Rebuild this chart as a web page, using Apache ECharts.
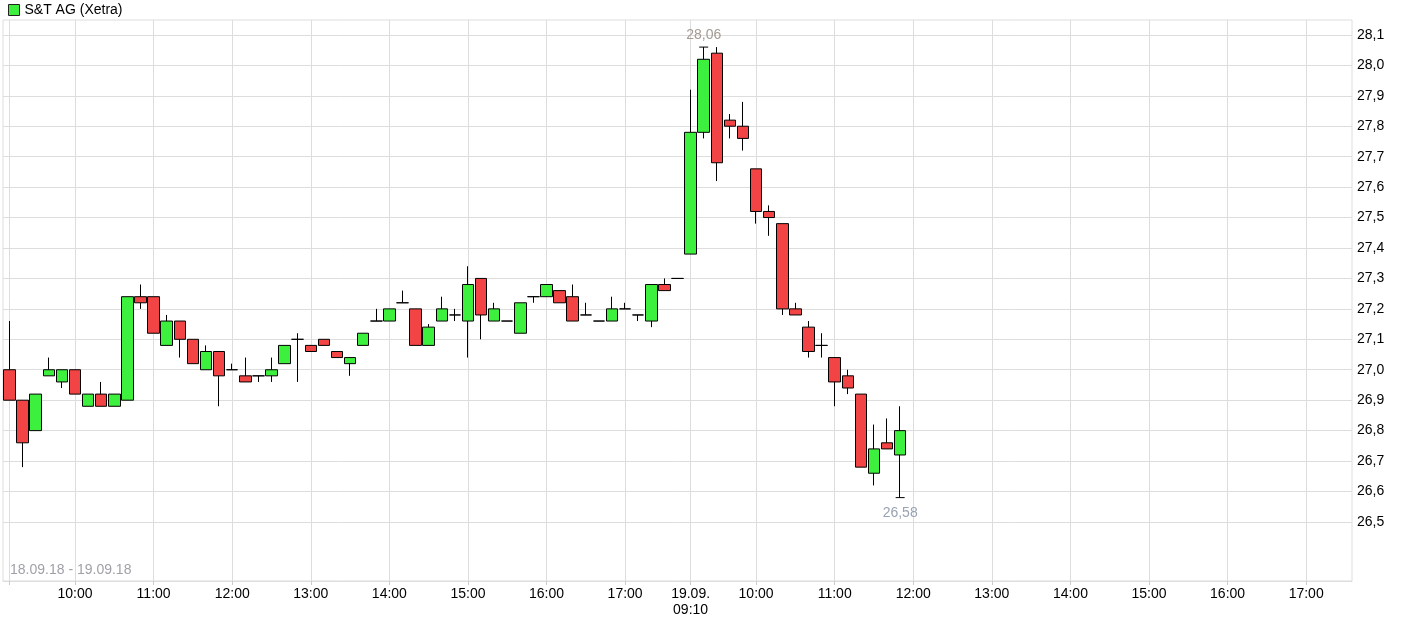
<!DOCTYPE html>
<html>
<head>
<meta charset="utf-8">
<script src="https://cdn.jsdelivr.net/npm/echarts@6/dist/echarts.min.js"></script>
<style>
html,body{margin:0;padding:0;background:#fff;}
#chart{width:1414px;height:626px;}
</style>
</head>
<body>
<div id="chart"></div>
<script>
// ---- DATA ----
const seriesName = 'S&T AG (Xetra)';
const dateRange = '18.09.18 - 19.09.18';
const day1Date = '18.09.';
const day2Date = '19.09.';
const day1Times = ['09:10','09:20','09:30','09:40','09:50','10:00','10:10','10:20','10:30','10:40','10:50','11:00',
  '11:10','11:20','11:30','11:40','11:50','12:00','12:10','12:20','12:30','12:40','12:50','13:00',
  '13:10','13:20','13:30','13:40','13:50','14:00','14:10','14:20','14:30','14:40','14:50','15:00',
  '15:10','15:20','15:30','15:40','15:50','16:00','16:10','16:20','16:30','16:40','16:50','17:00',
  '17:10','17:20','17:30','17:40'];
const day2Times = ['09:10','09:20','09:30','09:40','09:50','10:00','10:10','10:20','10:30','10:40','10:50','11:00',
  '11:10','11:20','11:30','11:40','11:50','12:00','12:10','12:20','12:30','12:40','12:50','13:00',
  '13:10','13:20','13:30','13:40','13:50','14:00','14:10','14:20','14:30','14:40','14:50','15:00',
  '15:10','15:20','15:30','15:40','15:50','16:00','16:10','16:20','16:30','16:40','16:50','17:00',
  '17:10','17:20','17:30'];
// [open, close, low, high]
const day1Candles = [
  [27.00,26.90,26.90,27.16],[26.90,26.76,26.68,26.90],[26.80,26.92,26.80,26.92],[26.98,27.00,26.98,27.04],
  [26.96,27.00,26.94,27.00],[27.00,26.92,26.92,27.00],[26.88,26.92,26.88,26.92],[26.92,26.88,26.88,26.96],
  [26.88,26.92,26.88,26.92],[26.90,27.24,26.90,27.24],[27.24,27.22,27.20,27.28],[27.24,27.12,27.12,27.24],
  [27.08,27.16,27.08,27.18],[27.16,27.10,27.04,27.16],[27.10,27.02,27.02,27.10],[27.00,27.06,27.00,27.08],
  [27.06,26.98,26.88,27.06],[27.00,27.00,27.00,27.02],[26.98,26.96,26.96,27.04],[26.98,26.98,26.96,26.98],
  [26.98,27.00,26.96,27.04],[27.02,27.08,27.02,27.08],[27.10,27.10,26.96,27.12],[27.08,27.06,27.06,27.08],
  [27.10,27.08,27.08,27.10],[27.06,27.04,27.04,27.06],[27.02,27.04,26.98,27.04],[27.08,27.12,27.08,27.12],
  [27.16,27.16,27.16,27.20],[27.16,27.20,27.16,27.20],[27.22,27.22,27.22,27.26],[27.20,27.08,27.08,27.20],
  [27.08,27.14,27.08,27.15],[27.16,27.20,27.16,27.24],[27.18,27.18,27.16,27.20],[27.16,27.28,27.04,27.34],
  [27.30,27.18,27.10,27.30],[27.16,27.20,27.16,27.22],[27.16,27.16,27.16,27.16],[27.12,27.22,27.12,27.22],
  [27.24,27.24,27.22,27.24],[27.24,27.28,27.24,27.28],[27.26,27.22,27.22,27.26],[27.24,27.16,27.16,27.28],
  [27.18,27.18,27.18,27.22],[27.16,27.16,27.16,27.16],[27.16,27.20,27.16,27.24],[27.20,27.20,27.20,27.22],
  [27.18,27.18,27.16,27.18],[27.16,27.28,27.14,27.28],[27.28,27.26,27.26,27.30],[27.30,27.30,27.30,27.30]
];
const day2Candles = [
  [27.38,27.78,27.38,27.92],[27.78,28.02,27.76,28.06],[28.04,27.68,27.62,28.06],[27.82,27.80,27.76,27.84],
  [27.80,27.76,27.72,27.88],[27.66,27.52,27.48,27.66],[27.52,27.50,27.44,27.54],[27.48,27.20,27.18,27.48],
  [27.20,27.18,27.18,27.22],[27.14,27.06,27.04,27.16],[27.08,27.08,27.04,27.12],[27.04,26.96,26.88,27.04],
  [26.98,26.94,26.92,27.00],[26.92,26.68,26.68,26.92],[26.66,26.74,26.62,26.82],[26.76,26.74,26.74,26.84],
  [26.72,26.80,26.58,26.88]
];
const yTicks = [26.5,26.6,26.7,26.8,26.9,27.0,27.1,27.2,27.3,27.4,27.5,27.6,27.7,27.8,27.9,28.0,28.1];
const highPoint = {time: day2Date + ' 09:20', value: 28.06, label: '28,06'};
const lowPoint = {time: day2Date + ' 11:50', value: 26.58, label: '26,58'};

// ---- BUILD ----
const categories = day1Times.map(t => day1Date + ' ' + t).concat(day2Times.map(t => day2Date + ' ' + t));
const candles = day1Candles.concat(day2Candles).map(c => [c[0], c[1], c[2], c[3]]);

function timeOf(cat){ return cat.split(' ')[1]; }
function dateOf(cat){ return cat.split(' ')[0]; }
function isLabelled(idx, cat){
  const t = timeOf(cat);
  if (t.endsWith(':00')) return true;
  if (t === '09:10' && idx !== 0) return true;
  return false;
}
function isTicked(idx, cat){
  return isLabelled(idx, cat) || idx === 0;
}
const gridCats = categories.filter((c, i) => isTicked(i, c));

const GREEN = '#3ef03e';
const RED = '#f24444';
const GRID = '#dddddd';
const FONT = 'Liberation Sans, Arial, sans-serif';

const chart = echarts.init(document.getElementById('chart'), null, {renderer: 'canvas'});
chart.setOption({
  animation: false,
  backgroundColor: '#ffffff',
  textStyle: {fontFamily: FONT},
  title: {
    text: dateRange,
    left: 5, top: 558,
    textStyle: {fontSize: 14, fontWeight: 'normal', color: '#a0a0a8', fontFamily: FONT}
  },
  legend: {
    left: 3, top: -2,
    itemWidth: 11, itemHeight: 11,
    textStyle: {fontSize: 14, color: '#000', fontFamily: FONT},
    data: [{name: seriesName, icon: 'rect', itemStyle: {color: GREEN, borderColor: '#222', borderWidth: 1}}],
    selectedMode: false
  },
  grid: {
    left: 3, right: 62, top: 20, bottom: 45,
    show: true, borderColor: GRID, borderWidth: 1, backgroundColor: 'transparent'
  },
  xAxis: {
    type: 'category',
    data: categories,
    boundaryGap: true,
    axisLine: {show: true, lineStyle: {color: GRID}},
    axisTick: {show: true, alignWithLabel: true, length: 4, lineStyle: {color: '#cccccc'},
      interval: (i, v) => isTicked(i, v)},
    splitLine: {show: false},
    axisLabel: {
      interval: (i, v) => isLabelled(i, v),
      margin: 5,
      fontSize: 14, color: '#000', lineHeight: 16,
      fontFamily: FONT,
      formatter: (v, i) => {
        const t = timeOf(v);
        if (t === '09:10' && i !== 0) return dateOf(v) + '\n' + t;
        return t;
      }
    }
  },
  yAxis: {
    type: 'value',
    position: 'right',
    min: 26.306, max: 28.149,
    scale: true,
    axisLine: {show: false},
    axisTick: {show: false, customValues: yTicks},
    splitLine: {show: true, lineStyle: {color: GRID, width: 1}},
    axisLabel: {
      customValues: yTicks,
      margin: 5, fontSize: 14, color: '#000',
      fontFamily: FONT,
      formatter: v => v.toFixed(1).replace('.', ',')
    }
  },
  series: [{
    name: 'grid-x',
    type: 'line',
    data: [],
    z: 0,
    silent: true,
    markLine: {
      silent: true,
      z: 0,
      symbol: 'none',
      animation: false,
      label: {show: false},
      lineStyle: {color: GRID, width: 1, type: 'solid'},
      emphasis: {disabled: true},
      data: gridCats.map(c => ({xAxis: c}))
    }
  }, {
    name: seriesName,
    type: 'candlestick',
    data: candles,
    barWidth: 12,
    z: 2,
    itemStyle: {
      color: GREEN, color0: RED,
      borderColor: '#000', borderColor0: '#000', borderColorDoji: '#000',
      borderWidth: 1
    },
    markPoint: {
      silent: true,
      symbol: 'rect',
      symbolSize: [9, 1],
      itemStyle: {color: '#000'},
      data: [
        {coord: [highPoint.time, highPoint.value],
          label: {show: true, position: 'top', distance: 4, formatter: highPoint.label, fontSize: 14, color: '#a39a94'}},
        {coord: [lowPoint.time, lowPoint.value],
          label: {show: true, position: 'bottom', distance: 8, formatter: lowPoint.label, fontSize: 14, color: '#98a2b3'}}
      ]
    }
  }]
});
</script>
</body>
</html>
